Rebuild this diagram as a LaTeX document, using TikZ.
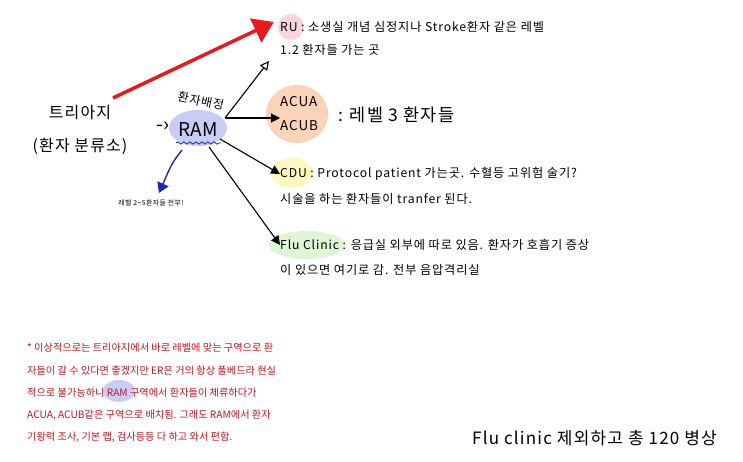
\documentclass[tikz,border=0pt]{standalone}
\usepackage{fontspec}
\setmainfont{Noto Sans CJK KR}
\newfontfamily\hand[LetterSpace=7]{Noto Sans CJK KR}
\usetikzlibrary{arrows.meta,decorations.pathmorphing}
\definecolor{redarrow}{RGB}{232,24,28}
\definecolor{notered}{RGB}{200,20,30}
\definecolor{ramblue}{RGB}{200,205,245}
\definecolor{darkblue}{RGB}{25,40,180}
\definecolor{pinkblob}{RGB}{248,214,220}
\definecolor{peachblob}{RGB}{251,211,184}
\definecolor{yellowblob}{RGB}{253,248,190}
\definecolor{greenblob}{RGB}{222,245,214}
\begin{document}
\begin{tikzpicture}[x=1pt,y=-1pt,
  body/.style={anchor=west,inner sep=0pt,font=\hand\fontsize{12.2}{14}\selectfont},
  note/.style={anchor=west,inner sep=0pt,text=notered,font=\fontsize{10.2}{12}\selectfont},
  big/.style={inner sep=0pt,font=\hand\fontsize{16}{18}\selectfont},
  conn/.style={draw=black,line width=1.1pt,-{Triangle[length=9pt,width=9pt]}}]
\useasboundingbox (0,0) rectangle (743,462);
\fill[white] (0,0) rectangle (743,462);
% blobs
\node[circle,fill=pinkblob,minimum size=26pt,inner sep=0pt] (rublob) at (291,27) {};
\fill[peachblob] (297,114) ellipse (31 and 29);
\fill[yellowblob] (292,173) ellipse (21 and 15);
\fill[greenblob] (307,245) ellipse (38 and 14);
\fill[ramblue] (198,128) ellipse (29 and 18);
\fill[ramblue] (119,391) ellipse (16 and 11);
% triage
\node[big] (tri) at (80,113) {트리아지};
\node[big] (triB) at (80,146) {(환자 분류소)};
% RAM
\node[inner sep=0pt,font=\fontsize{19}{21}\selectfont] (ram) at (198,130) {RAM};
\node[inner sep=0pt,font=\fontsize{20}{22}\selectfont] (dash) at (163,127) {-›};
\node[inner sep=0pt,font=\hand\fontsize{12}{13}\selectfont,rotate=-12] (assign) at (201,101) {환자배정};
\draw[darkblue,line width=0.8pt,decorate,decoration={snake,amplitude=1.2pt,segment length=6pt}] (176,143) -- (221,143);
% destinations text
\node[body] (ru) at (280,27) {RU : 소생실 개념 심정지나 Stroke환자 같은 레벨};
\node[body] (ru2) at (280,50) {1.2 환자들 가는 곳};
\node[anchor=west,inner sep=0pt,font=\hand\fontsize{13.5}{15}\selectfont] (acua) at (280,102) {ACUA};
\node[anchor=west,inner sep=0pt,font=\hand\fontsize{13.5}{15}\selectfont] (acub) at (280,126) {ACUB};
\node[anchor=west,inner sep=0pt,font=\hand\fontsize{17.5}{19}\selectfont] (lvl3) at (338,115) {: 레벨 3 환자들};
\node[body] (cdu) at (280,174) {CDU : Protocol patient 가는곳. 수혈등 고위험 술기?};
\node[body] (cdu2) at (280,199) {시술을 하는 환자들이 tranfer 된다.};
\node[body] (flu) at (280,245) {Flu Clinic : 응급실 외부에 따로 있음. 환자가 호흡기 증상};
\node[body] (flu2) at (280,270) {이 있으면 여기로 감. 전부 음압격리실};
% connectors
\coordinate (br) at (225,118);
\coordinate (ruend) at (269,61);
\coordinate (cdustart) at (220,139);
\coordinate (flustart) at (209,147);
\coordinate (rs) at (113,98);
\draw[conn,-{Triangle[open,length=9pt,width=9pt]}] (br) -- (ruend);
\draw[conn] (br) -- (acub.west |- br);
\draw[conn] (cdustart) -- (cdu.west);
\draw[conn] (flustart) -- (flu.west);
\draw[redarrow,line width=3.5pt,-{Triangle[length=20pt,width=26pt]}] (rs) -- ([xshift=-4pt,yshift=5pt]rublob.west);
% blue arrow
\coordinate (bs) at (182,150);
\node[inner sep=0pt,font=\hand\fontsize{6.8}{8}\selectfont] (all) at (151,203) {레벨 2\textasciitilde5환자들 전부!};
\draw[darkblue,line width=1.4pt,-{Triangle[length=10pt,width=12pt]}] (bs) .. controls (172,163) .. (159,193);
% note
\node[note] (n1) at (27,348) {* 이상적으로는 트리아지에서 바로 레벨에 맞는 구역으로 환};
\node[note] (n2) at (27,371) {자들이 갈 수 있다면 좋겠지만 ER은 거의 항상 풀베드라 현실};
\node[note] (n3) at (27,393) {적으로 불가능하니 RAM 구역에서 환자들이 체류하다가};
\node[note] (n4) at (27,415) {ACUA, ACUB같은 구역으로 배치됨. 그래도 RAM에서 환자};
\node[note] (n5) at (27,437) {기왕력 조사, 기본 랩, 검사등등 다 하고 와서 편함.};
% bottom
\node[anchor=west,inner sep=0pt,font=\hand\fontsize{17}{19}\selectfont] (total) at (472,438) {Flu clinic 제외하고 총 120 병상};
\end{tikzpicture}
\end{document}
